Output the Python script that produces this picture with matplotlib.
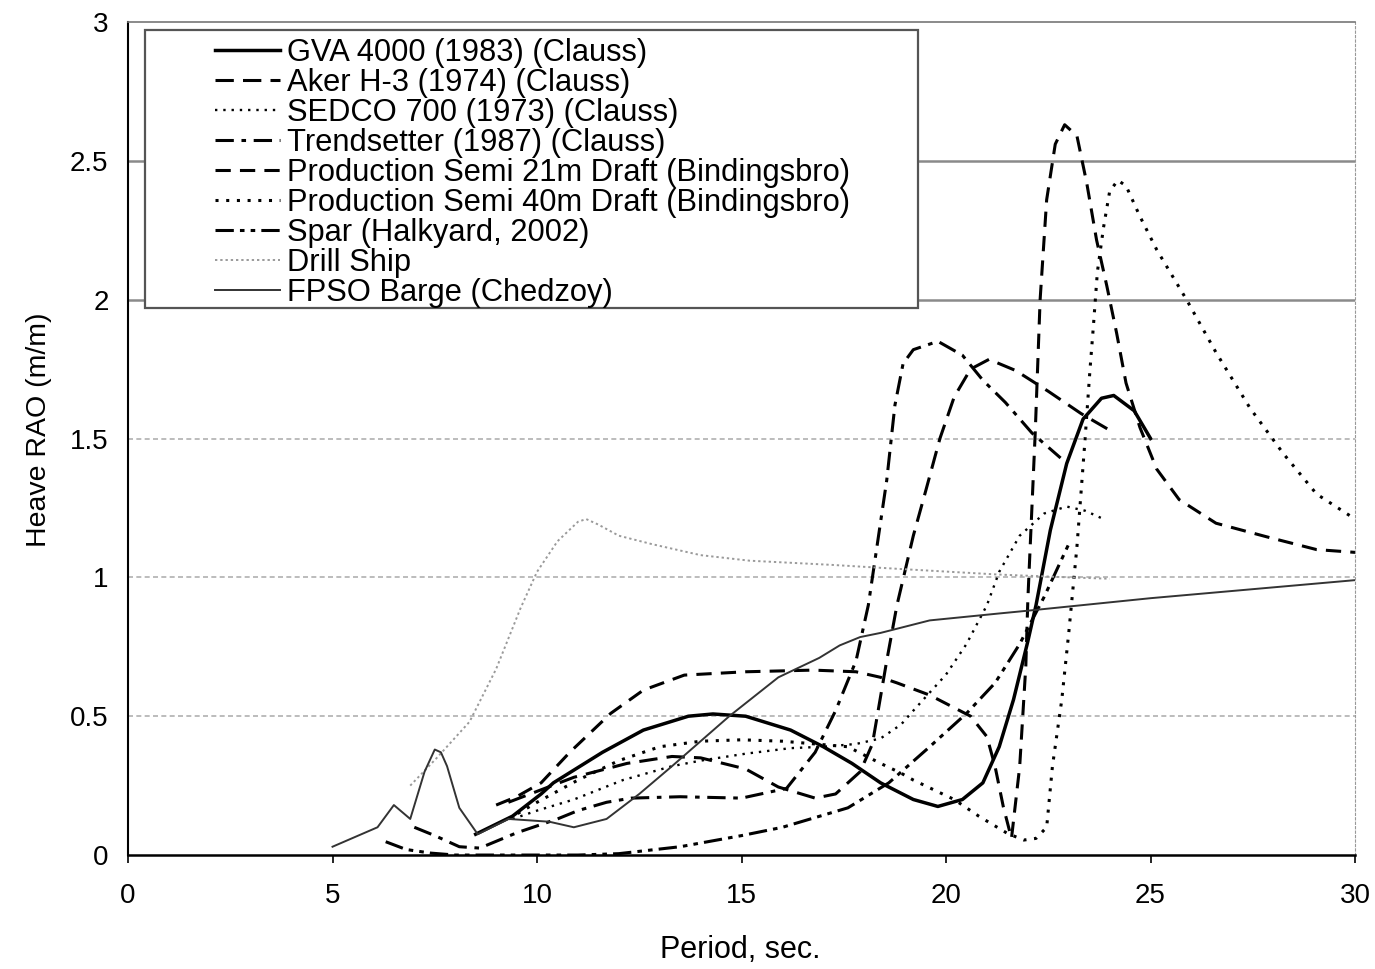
import matplotlib
matplotlib.use("Agg")
import matplotlib.pyplot as plt
from matplotlib.patches import Rectangle

plt.rcParams['font.family'] = ['Liberation Sans', 'DejaVu Sans']

# heave RAO curves, period (s) vs RAO (m/m)
gva_x = [8.5, 9.4, 10.1, 10.4, 11.6, 12.6, 13.7, 14.3, 15.1, 16.2, 17.0, 17.7, 18.4, 19.2, 19.8,
         20.4, 20.9, 21.3, 21.65, 22.0, 22.2, 22.55, 22.95, 23.35, 23.8, 24.1, 24.6, 25.0]
gva_y = [0.075, 0.14, 0.22, 0.26, 0.37, 0.45, 0.50, 0.508, 0.50, 0.45, 0.39, 0.33, 0.26, 0.20, 0.175,
         0.20, 0.26, 0.39, 0.56, 0.77, 0.90, 1.17, 1.41, 1.57, 1.645, 1.655, 1.60, 1.50]

aker_x = [9.3, 10.9, 12.2, 13.3, 14.0, 15.1, 15.9, 16.8, 17.3, 17.9, 18.2, 18.55, 18.8, 19.2, 19.5,
          19.85, 20.2, 20.6, 21.05, 21.7, 22.5, 23.3, 24.0]
aker_y = [0.19, 0.28, 0.33, 0.355, 0.35, 0.31, 0.245, 0.205, 0.22, 0.30, 0.40, 0.70, 0.90, 1.15, 1.31,
          1.50, 1.65, 1.75, 1.785, 1.745, 1.67, 1.59, 1.53]

sedco_x = [9.4, 10.0, 10.9, 12.1, 13.3, 14.0, 15.1, 16.2, 17.0, 17.8, 18.4, 18.9, 19.2, 20.0, 20.5,
           21.0, 21.3, 21.8, 22.4, 22.95, 23.4, 23.85]
sedco_y = [0.13, 0.16, 0.20, 0.27, 0.32, 0.34, 0.365, 0.385, 0.39, 0.40, 0.42, 0.47, 0.52, 0.65, 0.76,
           0.90, 1.02, 1.15, 1.23, 1.255, 1.24, 1.21]

trend_x = [7.0, 7.5, 8.1, 8.6, 9.5, 10.5, 11.0, 11.7, 12.3, 13.5, 15.0, 16.1, 16.8, 17.3, 17.8, 18.1,
           18.35, 18.55, 18.75, 18.95, 19.2, 19.8, 20.4, 20.9, 21.45, 22.1, 22.8]
trend_y = [0.10, 0.07, 0.03, 0.025, 0.08, 0.13, 0.16, 0.19, 0.205, 0.21, 0.205, 0.24, 0.37, 0.52, 0.70, 0.90,
           1.15, 1.35, 1.62, 1.77, 1.82, 1.85, 1.80, 1.71, 1.63, 1.52, 1.43]

semi21_x = [9.0, 9.5, 10.1, 10.8, 11.8, 12.6, 13.6, 15.1, 16.75, 17.8, 18.4, 18.8, 19.6, 20.6, 21.0,
            21.2, 21.4, 21.6, 21.8, 21.95, 22.0, 22.18, 22.3, 22.46, 22.67, 22.9, 23.2, 23.44, 23.68,
            23.93, 24.17, 24.4, 24.74, 25.15, 25.7, 26.6, 27.84, 29.06, 30.0]
semi21_y = [0.18, 0.21, 0.26, 0.37, 0.51, 0.594, 0.648, 0.66, 0.666, 0.66, 0.64, 0.62, 0.576, 0.50, 0.426,
            0.318, 0.174, 0.06, 0.318, 0.68, 0.92, 1.52, 2.0, 2.36, 2.56, 2.63, 2.59, 2.42, 2.215,
            2.05, 1.88, 1.70, 1.54, 1.39, 1.28, 1.195, 1.146, 1.10, 1.09]

semi40_x = [9.3, 10.0, 11.0, 12.0, 13.0, 14.0, 15.0, 16.0, 16.8, 17.6, 18.4, 18.9, 19.2, 20.2, 20.8,
            21.5, 21.9, 22.2, 22.46, 22.6, 22.83, 23.0, 23.2, 23.4, 23.52, 23.6, 23.7, 23.85, 24.0,
            24.2, 24.4, 24.74, 25.15, 25.88, 26.6, 27.43, 28.25, 29.06, 30.0]
semi40_y = [0.13, 0.19, 0.27, 0.34, 0.39, 0.41, 0.415, 0.41, 0.40, 0.39, 0.33, 0.295, 0.27, 0.20, 0.14,
            0.078, 0.054, 0.06, 0.10, 0.318, 0.56, 0.80, 1.11, 1.50, 1.75, 1.90, 2.10, 2.26, 2.39,
            2.43, 2.41, 2.30, 2.18, 2.0, 1.81, 1.61, 1.445, 1.30, 1.21]

spar_x = [6.3, 6.8, 7.4, 8.0, 9.0, 10.0, 11.0, 12.0, 13.5, 15.0, 16.0, 17.6, 18.6, 19.6, 20.5, 21.2,
          21.8, 22.4, 23.0]
spar_y = [0.048, 0.02, 0.007, 0.0, 0.0, 0.0, 0.0, 0.005, 0.03, 0.07, 0.10, 0.17, 0.26, 0.39, 0.51, 0.62,
          0.76, 0.93, 1.12]

drill_x = [6.9, 7.55, 8.35, 9.0, 9.6, 10.0, 10.5, 11.0, 11.2, 11.5, 12.0, 12.8, 14.0, 15.2, 17.2, 18.9,
           20.1, 21.3, 23.0, 24.0]
drill_y = [0.25, 0.35, 0.48, 0.67, 0.89, 1.02, 1.13, 1.20, 1.21, 1.19, 1.15, 1.12, 1.08, 1.06, 1.045, 1.03,
           1.02, 1.01, 1.0, 0.995]

fpso_x = [5.0, 6.1, 6.5, 6.9, 7.25, 7.5, 7.65, 7.8, 8.1, 8.55, 9.3, 10.3, 10.9, 11.7, 12.5, 13.3, 14.0,
          14.7, 15.9, 16.9, 17.4, 17.9, 18.4, 19.6, 21.3, 22.0, 25.0, 30.0]
fpso_y = [0.03, 0.10, 0.18, 0.13, 0.30, 0.38, 0.37, 0.32, 0.17, 0.075, 0.13, 0.12, 0.10, 0.13, 0.22, 0.32, 0.41,
          0.50, 0.64, 0.71, 0.755, 0.785, 0.80, 0.845, 0.87, 0.88, 0.925, 0.99]

labels = ["GVA 4000 (1983) (Clauss)", "Aker H-3 (1974) (Clauss)", "SEDCO 700 (1973) (Clauss)",
          "Trendsetter (1987) (Clauss)", "Production Semi 21m Draft (Bindingsbro)",
          "Production Semi 40m Draft (Bindingsbro)", "Spar (Halkyard, 2002)", "Drill Ship",
          "FPSO Barge (Chedzoy)"]

fig = plt.figure(figsize=(13.75, 9.69), dpi=100)
ax = fig.add_axes([0.0931, 0.1176, 0.8924, 0.8597])

# horizontal grid
for g in [0.5, 1.0, 1.5]:
    ax.axhline(g, color='#b0b0b0', lw=1.2, ls=(0, (3, 2)), zorder=0)
for g in [2.0, 2.5]:
    ax.axhline(g, color='#8a8a8a', lw=1.8, zorder=0)

ax.plot(gva_x, gva_y, color='black', lw=2.5, label=labels[0])
ax.plot(aker_x, aker_y, color='black', lw=2.2, ls=(0, (6, 3)), label=labels[1])
ax.plot(sedco_x, sedco_y, color='black', lw=1.7, ls=(0, (1, 2.5)), label=labels[2])
ax.plot(trend_x, trend_y, color='black', lw=2.2, ls=(0, (6, 2.5, 1.5, 2.5)), label=labels[3])
ax.plot(semi21_x, semi21_y, color='black', lw=2.2, ls=(0, (5, 3)), label=labels[4])
ax.plot(semi40_x, semi40_y, color='black', lw=2.2, ls=(0, (1, 2.5)), label=labels[5])
ax.plot(spar_x, spar_y, color='black', lw=2.2, ls=(0, (6, 2, 1.5, 2, 1.5, 2)), label=labels[6])
ax.plot(drill_x, drill_y, color='#9a9a9a', lw=1.4, ls=(0, (1.2, 1.5)), label=labels[7])
ax.plot(fpso_x, fpso_y, color='#333333', lw=1.4, label=labels[8])

ax.set_xlim(0, 30)
ax.set_ylim(0, 3)
ax.set_xticks([0, 5, 10, 15, 20, 25, 30])
ax.set_yticks([0, 0.5, 1, 1.5, 2, 2.5, 3])
ax.set_yticklabels(['0', '0.5', '1', '1.5', '2', '2.5', '3'])
ax.tick_params(axis='x', direction='out', length=6, width=1.2, pad=14, labelsize=20)
ax.tick_params(axis='y', direction='out', length=0, pad=14, labelsize=20)

ax.spines['left'].set_linewidth(1.5)
ax.spines['bottom'].set_linewidth(1.8)
ax.spines['top'].set_color('#777777')
ax.spines['top'].set_linewidth(1.2)
ax.spines['right'].set_color('#999999')
ax.spines['right'].set_linestyle((0, (2, 2)))

ax.set_xlabel("Period, sec.", fontsize=22)
ax.set_ylabel("Heave RAO (m/m)", fontsize=20.5)
ax.xaxis.set_label_coords(0.499, -0.096)
ax.yaxis.set_label_coords(-0.062, 0.51)

# legend box
ax.add_patch(Rectangle((0.0139, 0.6567), 0.6299, 0.3337, transform=ax.transAxes,
                       facecolor='white', edgecolor='#555555', lw=1.6, zorder=5))
leg = ax.legend(loc='upper left', bbox_to_anchor=(0.0709, 0.9806), frameon=False, fontsize=22.2,
                borderpad=0, labelspacing=0.0, handlelength=2.1, handletextpad=0.25,
                borderaxespad=0)
leg.set_zorder(6)

fig.savefig("out.png", dpi=100)
